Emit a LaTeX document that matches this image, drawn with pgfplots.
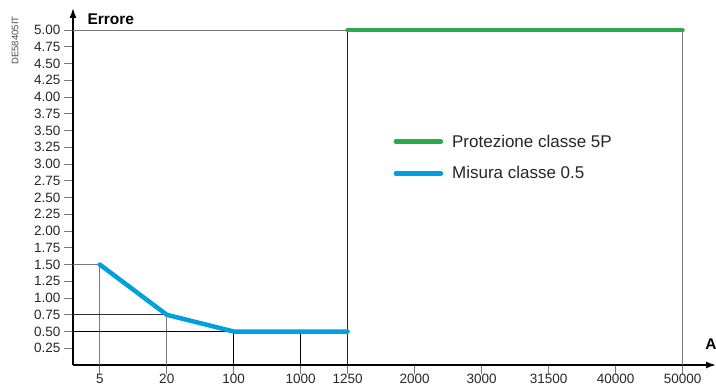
\documentclass[border=0pt]{standalone}
\usepackage{fontspec}
\setmainfont{Liberation Sans}
\usepackage{pgfplots}
\pgfplotsset{compat=1.18}
\usetikzlibrary{arrows.meta}

\definecolor{protgreen}{RGB}{46,168,74}
\definecolor{misblue}{RGB}{0,160,223}
\definecolor{refgray}{RGB}{120,120,120}

\begin{document}
\begin{tikzpicture}
\begin{axis}[
    x=67pt, y=67pt,
    xmin=-0.4, xmax=9.2,
    ymin=0, ymax=5.33,
    axis lines=left,
    axis line style={line width=1.5pt, -{Latex[length=10pt,width=7pt]}},
    tick align=outside,
    major tick length=9pt,
    tick style={refgray, line width=0.8pt},
    xtick={0,1,2,3,3.7,4.7,5.7,6.7,7.7,8.7},
    xticklabels={5,20,100,1000,1250,2000,3000,31500,40000,50000},
    ytick={0.25,0.5,0.75,1,1.25,1.5,1.75,2,2.25,2.5,2.75,3,3.25,3.5,3.75,4,4.25,4.5,4.75,5},
    yticklabel style={/pgf/number format/.cd, fixed, fixed zerofill, precision=2},
    xticklabel style={yshift=3.5pt},
    /pgf/number format/assume math mode=true,
    ticklabel style={font=\fontsize{13.5}{15}\selectfont, text=black!85},
    clip=false,
    legend style={draw=none, fill=none, at={(axis cs:4.34,3.5)}, anchor=north west,
        font=\fontsize{17}{19}\selectfont, row sep=14pt, column sep=7pt, text=black!85},
    legend cell align=left,
    legend image code/.code={\draw[#1, line width=4.5pt, line cap=round] (2pt,0pt) -- (47pt,0pt);},
]
% reference lines
\addplot[refgray, line width=0.9pt, forget plot] coordinates {(-0.4,1.5) (0,1.5) (0,0)};
\addplot[black!80, line width=0.9pt, forget plot] coordinates {(-0.4,0.75) (1,0.75)};
\addplot[refgray, line width=0.9pt, forget plot] coordinates {(1,0.75) (1,0)};
\addplot[black, line width=0.9pt, forget plot] coordinates {(-0.4,0.5) (2,0.5) (2,0)};
\addplot[black, line width=0.9pt, forget plot] coordinates {(3,0.5) (3,0)};
\addplot[black!85, line width=0.9pt, forget plot] coordinates {(3.7,5) (3.7,0)};
\addplot[refgray, line width=0.9pt, forget plot] coordinates {(-0.4,5) (3.7,5)};
\addplot[refgray, line width=0.9pt, forget plot] coordinates {(8.7,5) (8.7,0)};
% series
\addplot[protgreen, line width=4.5pt, line cap=round] coordinates {(3.7,5) (8.7,5)};
\addlegendentry{Protezione classe 5P}
\addplot[misblue, line width=4.5pt, line cap=round, line join=round] coordinates {(0,1.5) (1,0.75) (2,0.5) (3.7,0.5)};
\addlegendentry{Misura classe 0.5}

\coordinate (tl) at (rel axis cs:0,1);
\coordinate (br) at (rel axis cs:1,0);
\coordinate (sw) at (rel axis cs:0,0);
\coordinate (ne) at (rel axis cs:1,1);
\end{axis}
\node[anchor=west, font=\fontsize{15.5}{17}\selectfont\bfseries] at ([xshift=11pt, yshift=-11pt]tl) {Errore};
\node[anchor=south east, font=\fontsize{15.5}{17}\selectfont\bfseries] at ([xshift=4pt, yshift=12pt]br) {A};
\node[rotate=90, anchor=east, font=\fontsize{9.5}{11}\selectfont, text=black!70] at ([xshift=-58pt, yshift=-5pt]tl) {DE58405IT};
\pgfresetboundingbox
\path[use as bounding box] ([xshift=-73pt, yshift=-22pt]sw) rectangle ([xshift=0pt, yshift=8pt]ne);
\end{tikzpicture}
\end{document}
